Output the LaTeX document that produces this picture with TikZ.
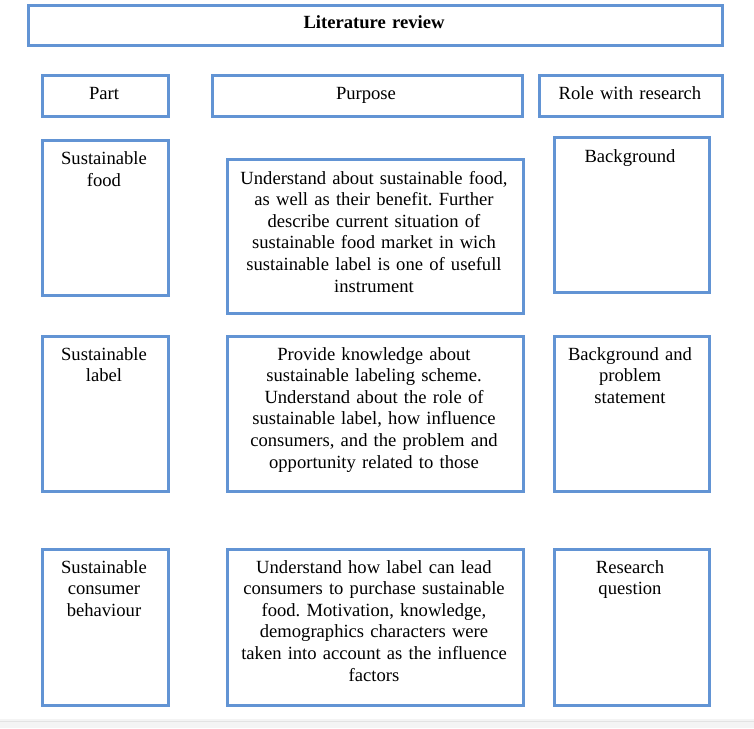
\documentclass[tikz,border=0pt]{standalone}
\usepackage{fontspec}
\setmainfont{Liberation Serif}
\frenchspacing
\begin{document}
\begin{tikzpicture}[x=1pt,y=-1pt,
  bx/.style={draw=boxblue,line width=2.6pt,fill=white,inner sep=0pt,anchor=north west},
  tx/.style={anchor=base,inner sep=0pt,align=center,font=\fontsize{18.6}{21.6}\selectfont,text=black}]
\definecolor{boxblue}{RGB}{98,148,212}
\useasboundingbox (0,0) rectangle (754,728);
\fill[white] (0,0) rectangle (754,728);
\fill[gray!9] (0,719) rectangle (754,728);
\draw[gray!22,line width=0.8pt] (0,721) -- (754,721);
% header row
\node[bx,minimum width=694,minimum height=40] (lit) at (27,4) {};
\node[bx,minimum width=126,minimum height=41] (part) at (41,74) {};
\node[bx,minimum width=310,minimum height=41] (purp) at (211,74) {};
\node[bx,minimum width=183,minimum height=41] (role) at (538,74) {};
% row 1
\node[bx,minimum width=126,minimum height=155] (p1) at (41,139) {};
\node[bx,minimum width=296,minimum height=154] (q1) at (226,158) {};
\node[bx,minimum width=155,minimum height=155] (r1) at (553,136) {};
% row 2
\node[bx,minimum width=126,minimum height=155] (p2) at (41,335) {};
\node[bx,minimum width=296,minimum height=155] (q2) at (226,335) {};
\node[bx,minimum width=155,minimum height=155] (r2) at (553,335) {};
% row 3
\node[bx,minimum width=126,minimum height=156] (p3) at (41,548) {};
\node[bx,minimum width=296,minimum height=156] (q3) at (226,548) {};
\node[bx,minimum width=155,minimum height=156] (r3) at (553,548) {};
% texts
\node[tx,text width=680,font=\fontsize{18.6}{21.6}\selectfont\bfseries] (tlit) at (374,28) {Literature review};
\node[tx,text width=120] (tpart) at (104,99.5) {Part};
\node[tx,text width=300] (tpurp) at (366,99.5) {Purpose};
\node[tx,text width=180] (trole) at (630,99.5) {Role with research};
\node[tx,text width=120] (tp1) at (104,164.5) {Sustainable\\food};
\node[tx,text width=296] (tq1) at (374,184) {Understand about sustainable food,\\as well as their benefit. Further\\describe current situation of\\sustainable food market in wich\\sustainable label is one of usefull\\instrument};
\node[tx,text width=150] (tr1) at (630,162) {Background};
\node[tx,text width=120] (tp2) at (104,360) {Sustainable\\label};
\node[tx,text width=296] (tq2) at (374,360) {Provide knowledge about\\sustainable labeling scheme.\\Understand about the role of\\sustainable label, how influence\\consumers, and the problem and\\opportunity related to those};
\node[tx,text width=150] (tr2) at (630,360) {Background and\\problem\\statement};
\node[tx,text width=120] (tp3) at (104,573) {Sustainable\\consumer\\behaviour};
\node[tx,text width=296] (tq3) at (374,573) {Understand how label can lead\\consumers to purchase sustainable\\food. Motivation, knowledge,\\demographics characters were\\taken into account as the influence\\factors};
\node[tx,text width=150] (tr3) at (630,573) {Research\\question};
\end{tikzpicture}
\end{document}
